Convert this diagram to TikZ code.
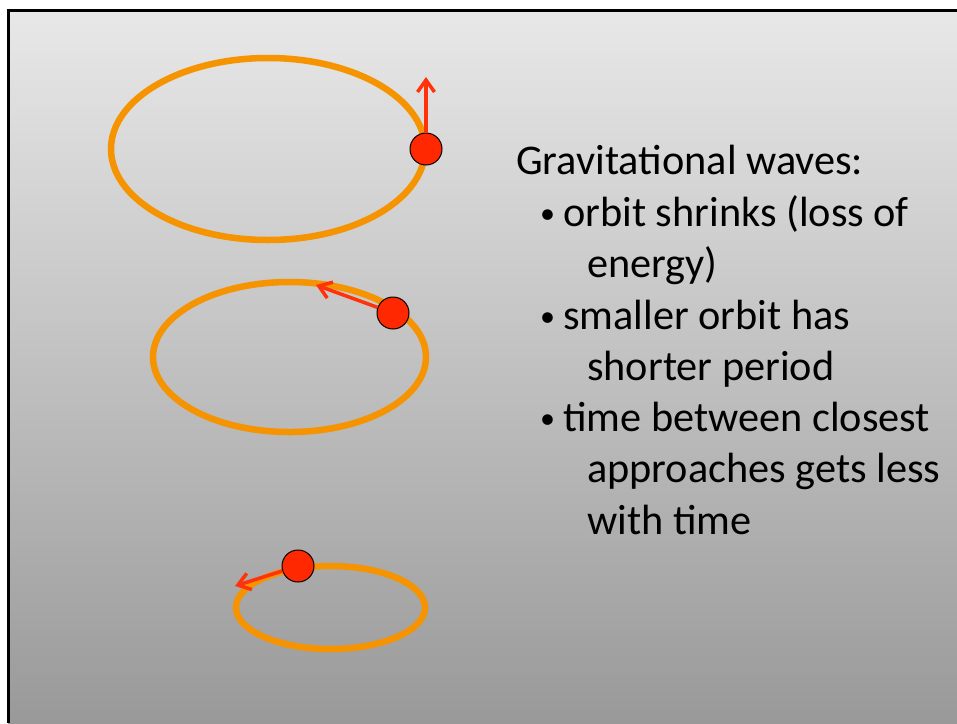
\documentclass[tikz,border=0pt]{standalone}
\usepackage{fontspec}
\setmainfont{Carlito}
\usepackage{tikz}
\usetikzlibrary{arrows.meta}

\definecolor{orbitorange}{RGB}{245,148,0}
\definecolor{ballred}{RGB}{255,40,0}
\definecolor{arrowred}{RGB}{255,50,10}

\tikzset{
  orbit/.style={draw=orbitorange, line width=6.5},
  ball/.style={circle, fill=ballred, draw=black, line width=1, minimum size=32, inner sep=0},
  vel/.style={draw=arrowred, line width=3.5, -{Straight Barb[length=12pt,width=17pt]}},
  txt/.style={anchor=base west, inner sep=0, font=\fontsize{42.3}{51}\selectfont},
  dot/.style={anchor=base west, inner sep=0, font=\fontsize{30}{51}\selectfont}
}

\begin{document}
\begin{tikzpicture}[x=1pt, y=-1pt]
    \useasboundingbox (0,0) rectangle (957,723);
    % ---- slide ----
    \shade[top color=black!9, bottom color=black!40] (8,10) rectangle (957,723);
    \draw[line width=3] (8,723) -- (8,10) -- (957,10);
    % ---- large orbit ----
    \begin{scope}
      \draw[orbit] (268,149) ellipse [x radius=157, y radius=91];
      \node[ball] (ball1) at (426,149) {};
      \coordinate (tip1) at (426,77);
      \draw[vel] (ball1) -- (tip1);
    \end{scope}
    % ---- middle orbit ----
    \begin{scope}
      \draw[orbit] (289.5,357) ellipse [x radius=136.5, y radius=75];
      \node[ball] (ball2) at (393,313) {};
      \coordinate (tip2) at (316,285);
      \draw[vel] (ball2) -- (tip2);
    \end{scope}
    % ---- small orbit ----
    \begin{scope}
      \draw[orbit] (330.5,607.5) ellipse [x radius=94.5, y radius=41.5];
      \node[ball] (ball3) at (298,566) {};
      \coordinate (tip3) at (235,586);
      \draw[vel] (ball3) -- (tip3);
    \end{scope}
    % ---- text ----
    \node[txt] (title) at (516,174) {Gravitational waves:};
    \node[dot] (dot1) at (540,223) {•};
    \node[txt] (b1a) at (563,226) {orbit shrinks (loss of};
    \node[txt] (b1b) at (587,277) {energy)};
    \node[dot] (dot2) at (540,326) {•};
    \node[txt] (b2a) at (563,329) {smaller orbit has};
    \node[txt] (b2b) at (587,380) {shorter period};
    \node[dot] (dot3) at (540,428) {•};
    \node[txt] (b3a) at (563,431) {time between closest};
    \node[txt] (b3b) at (587,482) {approaches gets less};
    \node[txt] (b3c) at (587,534) {with time};
\end{tikzpicture}
\end{document}
